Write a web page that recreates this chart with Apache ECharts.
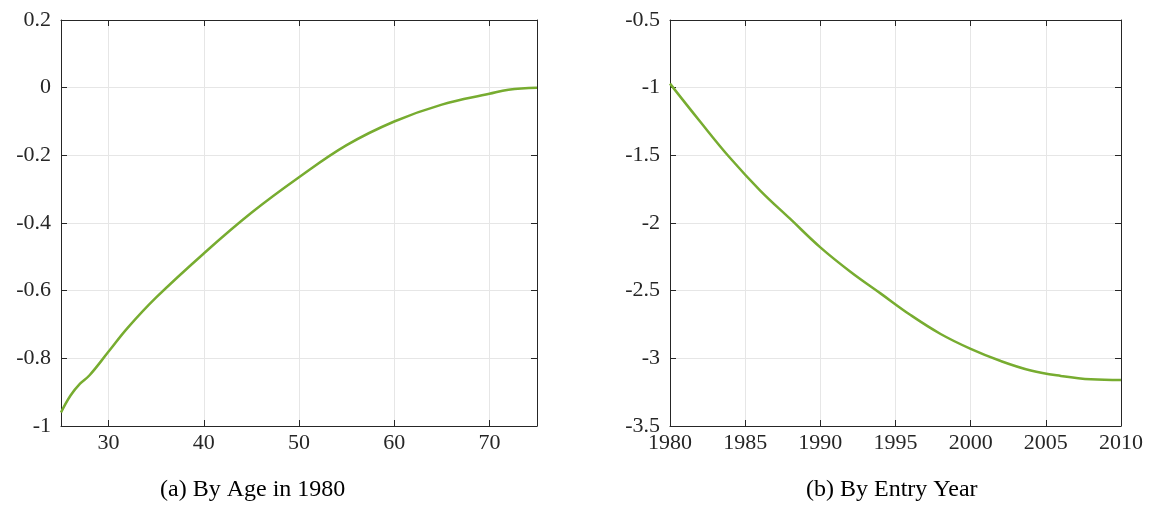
<!DOCTYPE html>
<html><head><meta charset="utf-8">
<script src="https://cdn.jsdelivr.net/npm/echarts@6/dist/echarts.min.js"></script>
<style>html,body{margin:0;background:#fff}#c{width:1153px;height:514px}</style>
</head><body><div id="c"></div>
<script>
// panel (a): by age in 1980
const ageX = [25, 26, 27, 28, 30, 32, 35, 40, 45, 50, 55, 60, 65, 70, 72, 75];
const ageY = [-0.96, -0.91, -0.875, -0.85, -0.78, -0.71, -0.62, -0.49, -0.37, -0.265, -0.17, -0.10, -0.05, -0.018, -0.006, 0];
const ageTicks = [30, 40, 50, 60, 70];
// panel (b): by entry year
const yearX = [1980, 1982, 1984, 1986, 1988, 1990, 1992, 1994, 1996, 1998, 2000, 2002, 2004, 2006, 2008, 2010];
const yearY = [-0.97, -1.25, -1.52, -1.76, -1.97, -2.18, -2.36, -2.52, -2.68, -2.82, -2.93, -3.02, -3.09, -3.13, -3.155, -3.16];
const titles = ['(a) By Age in 1980', '(b) By Entry Year'];

const font = 'Liberation Serif';
const lineColor = '#77ac30';
function axisCommon() {
  return {
    axisLine: {show: true, onZero: false, lineStyle: {color: '#262626'}},
    axisTick: {show: true, inside: true, length: 6, lineStyle: {color: '#262626'}},
    axisLabel: {color: '#262626', fontFamily: font, fontSize: 22, formatter: v => String(v)},
    splitLine: {show: true, lineStyle: {color: '#e6e6e6'}}
  };
}
function xAxis(idx, min, max, interval, pos, ticks) {
  const a = Object.assign(axisCommon(), {type: 'value', gridIndex: idx, min, max, interval, position: pos});
  a.axisLabel.show = pos === 'bottom';
  a.axisLabel.margin = 6;
  if (ticks) {
    a.axisLabel.customValues = ticks;
    a.axisTick.customValues = ticks;
    a.splitLine.show = false;
  }
  return a;
}
function yAxis(idx, min, max, interval, pos) {
  const a = Object.assign(axisCommon(), {type: 'value', gridIndex: idx, min, max, interval, position: pos});
  a.axisLabel.show = pos === 'left';
  a.axisLabel.margin = 10;
  a.splitLine.show = pos === 'left';
  return a;
}
const chart = echarts.init(document.getElementById('c'));
chart.setOption({
  animation: false,
  grid: [
    {left: 61, top: 20, width: 476, height: 406},
    {left: 670, top: 20, width: 451, height: 406}
  ],
  xAxis: [
    xAxis(0, 25, 75, 5, 'bottom', ageTicks), xAxis(0, 25, 75, 5, 'top', ageTicks),
    xAxis(1, 1980, 2010, 5, 'bottom'), xAxis(1, 1980, 2010, 5, 'top')
  ],
  yAxis: [
    yAxis(0, -1, 0.2, 0.2, 'left'), yAxis(0, -1, 0.2, 0.2, 'right'),
    yAxis(1, -3.5, -0.5, 0.5, 'left'), yAxis(1, -3.5, -0.5, 0.5, 'right')
  ],
  series: [
    // vertical grid lines for panel (a) at the labelled ages
    {type: 'line', xAxisIndex: 0, yAxisIndex: 0, data: [], silent: true, z: 0,
      markLine: {symbol: 'none', silent: true, label: {show: false}, z: 0,
        lineStyle: {color: '#e6e6e6', type: 'solid', width: 1},
        data: ageTicks.map(v => ({xAxis: v}))}},
    {type: 'line', xAxisIndex: 0, yAxisIndex: 0, smooth: 0.4, showSymbol: false, z: 5,
      lineStyle: {color: lineColor, width: 2.5}, data: ageX.map((x, i) => [x, ageY[i]])},
    {type: 'line', xAxisIndex: 2, yAxisIndex: 2, smooth: 0.4, showSymbol: false, z: 5,
      lineStyle: {color: lineColor, width: 2.5}, data: yearX.map((x, i) => [x, yearY[i]])}
  ],
  graphic: [
    {type: 'text', left: 160, top: 478, style: {text: titles[0], font: '24px ' + font, fill: '#000'}},
    {type: 'text', left: 806, top: 478, style: {text: titles[1], font: '24px ' + font, fill: '#000'}}
  ]
});
</script></body></html>
